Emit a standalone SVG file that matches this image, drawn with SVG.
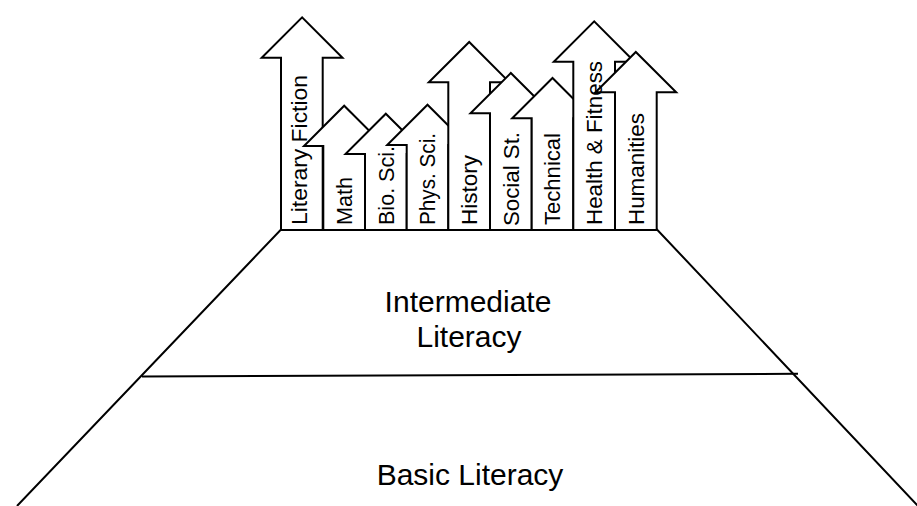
<svg xmlns="http://www.w3.org/2000/svg" width="917" height="506" viewBox="0 0 917 506">
  <style>
    .arrow { fill: #ffffff; stroke: #000000; stroke-width: 2; stroke-linejoin: miter; }
    .edge { fill: none; stroke: #000000; stroke-width: 2; }
    .subj { font-family: "Liberation Sans", Arial, sans-serif; font-size: 22px; fill: #000000; }
    .level { font-family: "Liberation Sans", Arial, sans-serif; font-size: 30px; fill: #000000; text-anchor: middle; }
  </style>
  <rect width="917" height="506" fill="#ffffff"/>

  <!-- pyramid base: trapezoid split into two levels -->
  <g id="pyramid">
    <path class="edge" d="M 17 506 L 281 229.5 L 657 229.5 L 918 506"/>
    <path class="edge" d="M 142 376.5 L 798 373.8" stroke-width="2.3"/>
  </g>
  <g id="intermediate-literacy">
    <text class="level" x="468" y="311.5">Intermediate</text>
    <text class="level" x="469" y="346.5">Literacy</text>
  </g>
  <g id="basic-literacy">
    <text class="level" x="470" y="485">Basic Literacy</text>
  </g>

  <!-- subject arrows, drawn left to right so each overlaps the previous -->
  <g id="arrows">
    <g id="arrow-literary-fiction"><path class="arrow" d="M 281 230 V 57.7 H 261.7 L 302.1 17.4 L 342.5 57.7 H 322.7 V 230 Z"/></g>
    <g id="arrow-math"><path class="arrow" d="M 323.3 230 V 146 H 304 L 344.2 105.7 L 384.5 146 H 365 V 230 Z"/></g>
    <g id="arrow-bio"><path class="arrow" d="M 365 230 V 154 H 345.5 L 385.8 113.7 L 426.2 154 H 406.7 V 230 Z"/></g>
    <g id="arrow-phys"><path class="arrow" d="M 406.7 230 V 145 H 387.2 L 427.5 104.7 L 467.8 145 H 448.3 V 230 Z"/></g>
    <g id="arrow-history"><path class="arrow" d="M 448.3 230 V 82.3 H 428.8 L 469.2 42 L 509.5 82.3 H 490 V 230 Z"/></g>
    <g id="arrow-social"><path class="arrow" d="M 490 230 V 113.3 H 470.5 L 510.8 73 L 551.2 113.3 H 531.7 V 230 Z"/></g>
    <g id="arrow-technical"><path class="arrow" d="M 531.7 230 V 118.3 H 512.2 L 552.5 78 L 592.8 118.3 H 573.3 V 230 Z"/></g>
    <g id="arrow-health"><path class="arrow" d="M 573.3 230 V 61.7 H 553.8 L 594.2 21.4 L 634.5 61.7 H 615 V 230 Z"/></g>
    <g id="arrow-humanities"><path class="arrow" d="M 615 230 V 92.3 H 595.5 L 635.8 52 L 676.2 92.3 H 656.7 V 230 Z"/></g>
  </g>

  <!-- arrow labels, reading bottom to top -->
  <g id="labels">
    <text class="subj" transform="translate(307,225) rotate(-90)" textLength="150" lengthAdjust="spacingAndGlyphs">Literary Fiction</text>
    <text class="subj" transform="translate(352,225) rotate(-90)" textLength="48" lengthAdjust="spacingAndGlyphs">Math</text>
    <text class="subj" transform="translate(393.6,225) rotate(-90)" textLength="79" lengthAdjust="spacingAndGlyphs">Bio. Sci.</text>
    <text class="subj" transform="translate(435.3,225) rotate(-90)" textLength="92" lengthAdjust="spacingAndGlyphs">Phys. Sci.</text>
    <text class="subj" transform="translate(477,225) rotate(-90)" textLength="70" lengthAdjust="spacingAndGlyphs">History</text>
    <text class="subj" transform="translate(518.6,226) rotate(-90)" textLength="94" lengthAdjust="spacingAndGlyphs">Social St.</text>
    <text class="subj" transform="translate(560.3,225) rotate(-90)" textLength="92" lengthAdjust="spacingAndGlyphs">Technical</text>
    <text class="subj" transform="translate(602,225) rotate(-90)" textLength="164" lengthAdjust="spacingAndGlyphs">Health &amp; Fitness</text>
    <text class="subj" transform="translate(643.6,225) rotate(-90)" textLength="112" lengthAdjust="spacingAndGlyphs">Humanities</text>
  </g>
</svg>
